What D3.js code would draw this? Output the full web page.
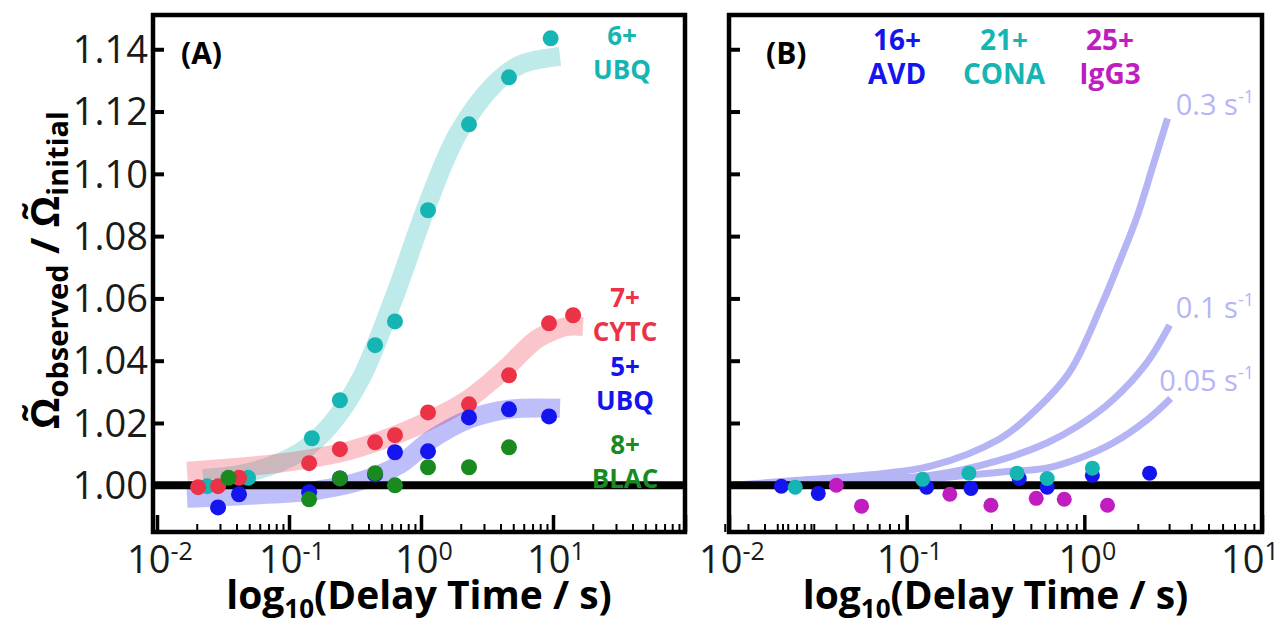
<!DOCTYPE html>
<html>
<head>
<meta charset="utf-8">
<script src="https://cdn.jsdelivr.net/npm/d3@7"></script>
<style>
  body { margin: 0; background: #fff; }
  svg { display: block; font-family: "Open Sans", sans-serif; }
</style>
</head>
<body>
<script>
/***Panel A data : delay time (s) and ratio***/
var cyanT = [0.024, 0.049, 0.149, 0.243, 0.449, 0.635, 1.13, 2.31, 4.64, 9.6];
var cyanY = [0.9997, 1.0024, 1.0151, 1.0273, 1.045, 1.0526, 1.0883, 1.1159, 1.131, 1.1435];
var redT = [0.0205, 0.029, 0.0418, 0.142, 0.243, 0.449, 0.635, 1.13, 2.31, 4.64, 9.33, 14.2];
var redY = [0.9994, 0.9997, 1.0024, 1.0071, 1.0116, 1.0138, 1.0161, 1.0234, 1.026, 1.0353, 1.052, 1.0546];
var blueT = [0.029, 0.0418, 0.142, 0.243, 0.449, 0.635, 1.13, 2.31, 4.64, 9.33];
var blueY = [0.9929, 0.9971, 0.9978, 1.0022, 1.0035, 1.0106, 1.0109, 1.0218, 1.0244, 1.0221];
var greenT = [0.0348, 0.142, 0.243, 0.449, 0.635, 1.13, 2.31, 4.64];
var greenY = [1.0024, 0.9955, 1.0022, 1.0039, 1.0000, 1.0058, 1.0058, 1.0122];

/***Panel A fit bands***/
var fitCyanT = [0.0223, 0.0507, 0.121, 0.205, 0.345, 0.614, 1.15, 1.91, 3.64, 5.63, 11.3];
var fitCyanY = [1.0022, 1.0042, 1.0106, 1.0193, 1.0337, 1.0594, 1.0915, 1.113, 1.129, 1.135, 1.1377];
var fitRedT = [0.0169, 0.0507, 0.121, 0.29, 0.693, 1.39, 2.27, 3.33, 4.56, 7.31, 10.35, 13.0, 16.9];
var fitRedY = [1.0045, 1.0061, 1.008, 1.0112, 1.0167, 1.0225, 1.0276, 1.0331, 1.0382, 1.0465, 1.0498, 1.051, 1.051];
var fitBlueT = [0.0169, 0.0507, 0.163, 0.364, 0.693, 1.17, 2.31, 4.64, 11.3];
var fitBlueY = [0.9958, 0.9968, 0.9984, 1.0016, 1.0067, 1.0144, 1.0212, 1.0244, 1.0247];

/***Panel B data***/
var avdT = [0.0197, 0.0318, 0.1296, 0.230, 0.430, 0.618, 1.11, 2.33];
var avdY = [0.9997, 0.9974, 0.9994, 0.999, 1.0022, 0.9994, 1.0032, 1.0039];
var conaT = [0.0236, 0.123, 0.224, 0.418, 0.618, 1.11];
var conaY = [0.9994, 1.0019, 1.0039, 1.0039, 1.0022, 1.0055];
var igg3T = [0.0402, 0.0557, 0.175, 0.298, 0.536, 0.771, 1.35];
var igg3Y = [1.0, 0.9933, 0.9971, 0.9936, 0.9958, 0.9955, 0.9936];

/***Panel B rate curves***/
var rate03T = [0.0105, 0.0246, 0.0587, 0.138, 0.331, 0.489, 0.822, 1.264, 1.577, 1.967, 2.42, 2.94];
var rate03Y = [1.0, 1.0016, 1.0032, 1.0062, 1.0148, 1.0222, 1.0362, 1.0585, 1.0718, 1.0858, 1.1021, 1.1178];
var rate01T = [0.0105, 0.0246, 0.0587, 0.138, 0.331, 0.610, 0.937, 1.44, 2.24, 3.02];
var rate01Y = [1.0, 1.001, 1.0019, 1.0032, 1.008, 1.0135, 1.0193, 1.0273, 1.0392, 1.0514];
var rate005T = [0.0105, 0.0246, 0.0587, 0.138, 0.331, 0.610, 0.937, 1.44, 2.24, 3.06];
var rate005Y = [1.0, 1.0006, 1.0013, 1.0022, 1.0042, 1.0055, 1.0087, 1.0135, 1.0209, 1.0279];

var yTicks = [1.00, 1.02, 1.04, 1.06, 1.08, 1.10, 1.12, 1.14];
var decadeLabels = [-2, -1, 0, 1];

var W = 1281, H = 622;
var plotTop = 15, plotBottom = 532;
var panelA = {left: 153, right: 685};
var panelB = {left: 729, right: 1262};

var col = {
  cyan: "#15b5b3", red: "#ec3246", blue: "#1414ee",
  green: "#198a1f", magenta: "#c01cc0", rate: "#b5b5f6"
};

var zip = function(ts, ys) {
  return ts.map(function(t, i) { return {t: t, v: ys[i]}; });
};

/***Draw SVG***/
var svg = d3.select("body")
            .append("svg")
            .attr("width", W)
            .attr("height", H);

/***Scales***/
var yScale = d3.scaleLinear()
               .domain([0.985, 1.151])
               .range([plotBottom, plotTop]);
var xA = d3.scaleLog()
           .domain([Math.pow(10, -2 - 4 / 132), 100])
           .range([panelA.left, panelA.right]);
var xB = d3.scaleLog()
           .domain([0.01, 10])
           .range([panelB.left, panelB.right]);

var drawFrame = function(x, p, decades)
{
  var g = svg.append("g");
  /***y ticks, pointing inward***/
  var yAxis = d3.axisRight(yScale)
                .tickValues(yTicks)
                .tickSize(11)
                .tickFormat("");
  g.append("g")
   .attr("transform", "translate(" + p.left + ",0)")
   .call(yAxis)
   .call(function(s) {
     s.select(".domain").remove();
     s.selectAll("line").attr("stroke", "#000").attr("stroke-width", 4);
   });

  /***x ticks: minor and major***/
  var minors = [];
  decades.forEach(function(d) {
    for (var k = 2; k <= 9; k++) minors.push(k * Math.pow(10, d));
  });
  var majors = decades.map(function(d) { return Math.pow(10, d); });
  var xMinor = d3.axisTop(x).tickValues(minors).tickSize(8).tickFormat("");
  var xMajor = d3.axisTop(x).tickValues(majors).tickSize(17).tickFormat("");
  g.append("g")
   .attr("transform", "translate(0," + plotBottom + ")")
   .call(xMinor)
   .call(function(s) {
     s.select(".domain").remove();
     s.selectAll("line").attr("stroke", "#000").attr("stroke-width", 2);
   });
  g.append("g")
   .attr("transform", "translate(0," + plotBottom + ")")
   .call(xMajor)
   .call(function(s) {
     s.select(".domain").remove();
     s.selectAll("line").attr("stroke", "#000").attr("stroke-width", 3.5);
   });

  /***x tick labels 10^n (kept inside the page at the right edge)***/
  var lab = g.selectAll(".xlab")
             .data(decadeLabels)
             .enter().append("text")
             .attr("class", "xlab")
             .attr("x", function(d) { return Math.min(x(Math.pow(10, d)) + 3, W - 31); })
             .attr("y", 573)
             .attr("text-anchor", "middle")
             .attr("font-size", 38)
             .attr("fill", "#1a1a1a");
  lab.append("tspan").text("10");
  lab.append("tspan")
     .attr("dy", -13)
     .attr("font-size", 25)
     .text(function(d) { return d < 0 ? "-" + (-d) : "" + d; });

  return g;
};

var drawBorder = function(p)
{
  svg.append("rect")
     .attr("x", p.left)
     .attr("y", plotTop)
     .attr("width", p.right - p.left)
     .attr("height", plotBottom - plotTop)
     .attr("fill", "none")
     .attr("stroke", "#000")
     .attr("stroke-width", 4.5);
};

var baseLine = function(p)
{
  svg.append("line")
     .attr("x1", p.left)
     .attr("x2", p.right)
     .attr("y1", yScale(1))
     .attr("y2", yScale(1))
     .attr("stroke", "#000")
     .attr("stroke-width", 8);
};

var lineGen = function(x) {
  return d3.line()
           .curve(d3.curveCatmullRom.alpha(0.5))
           .x(function(d) { return x(d.t); })
           .y(function(d) { return yScale(d.v); });
};

var dots = function(x, ts, ys, color, r)
{
  svg.append("g")
     .selectAll("circle")
     .data(zip(ts, ys))
     .enter().append("circle")
       .attr("cx", function(d) { return x(d.t); })
       .attr("cy", function(d) { return yScale(d.v); })
       .attr("r", r)
       .attr("fill", color);
};

var textBlock = function(x, y, lines, color, size, weight)
{
  lines.forEach(function(s, i) {
    svg.append("text")
       .attr("x", x)
       .attr("y", y + i * 34)
       .attr("text-anchor", "middle")
       .attr("font-size", size)
       .attr("font-weight", weight)
       .attr("fill", color)
       .text(s);
  });
};

/******** Panel A ********/
drawFrame(xA, panelA, [-2, -1, 0, 1, 2]);

/***Fit bands***/
[[fitCyanT, fitCyanY, col.cyan], [fitRedT, fitRedY, col.red], [fitBlueT, fitBlueY, col.blue]]
  .forEach(function(b) {
    svg.append("path")
       .datum(zip(b[0], b[1]))
       .attr("d", lineGen(xA))
       .attr("fill", "none")
       .attr("stroke", b[2])
       .attr("stroke-opacity", 0.28)
       .attr("stroke-width", 19);
  });

baseLine(panelA);

dots(xA, cyanT, cyanY, col.cyan, 8);
dots(xA, redT, redY, col.red, 8);
dots(xA, blueT, blueY, col.blue, 8);
dots(xA, greenT, greenY, col.green, 8);

/***y tick labels***/
svg.selectAll(".ylab")
   .data(yTicks)
   .enter().append("text")
   .attr("class", "ylab")
   .attr("x", 148)
   .attr("y", function(d) { return yScale(d); })
   .attr("dy", "0.36em")
   .attr("text-anchor", "end")
   .attr("font-size", 38)
   .attr("fill", "#1a1a1a")
   .text(function(d) { return d.toFixed(2); });

svg.append("text")
   .attr("x", 181)
   .attr("y", 64)
   .attr("font-size", 30)
   .attr("font-weight", "bold")
   .text("(A)");

textBlock(622, 45, ["6+", "UBQ"], col.cyan, 26, "bold");
textBlock(625, 307, ["7+", "CYTC"], col.red, 26, "bold");
textBlock(625, 376, ["5+", "UBQ"], col.blue, 26, "bold");
textBlock(625, 454, ["8+", "BLAC"], col.green, 26, "bold");

/******** Panel B ********/
drawFrame(xB, panelB, [-2, -1, 0, 1]);

[[rate03T, rate03Y], [rate01T, rate01Y], [rate005T, rate005Y]].forEach(function(c) {
  svg.append("path")
     .datum(zip(c[0], c[1]))
     .attr("d", lineGen(xB))
     .attr("fill", "none")
     .attr("stroke", col.rate)
     .attr("stroke-width", 7);
});

baseLine(panelB);

dots(xB, avdT, avdY, col.blue, 7.5);
dots(xB, conaT, conaY, col.cyan, 7.5);
dots(xB, igg3T, igg3Y, col.magenta, 7.5);

svg.append("text")
   .attr("x", 766)
   .attr("y", 64)
   .attr("font-size", 30)
   .attr("font-weight", "bold")
   .text("(B)");

textBlock(897, 50, ["16+", "AVD"], col.blue, 28, "bold");
textBlock(1004, 50, ["21+", "CONA"], col.cyan, 28, "bold");
textBlock(1110, 50, ["25+", "IgG3"], col.magenta, 28, "bold");

/***rate labels***/
var rateLabels = [["0.3 s", 115], ["0.1 s", 318], ["0.05 s", 391]];
rateLabels.forEach(function(r) {
  var t = svg.append("text")
             .attr("x", 1254)
             .attr("y", r[1])
             .attr("text-anchor", "end")
             .attr("font-size", 29)
             .attr("fill", col.rate);
  t.append("tspan").text(r[0]);
  t.append("tspan").attr("dy", -12).attr("font-size", 18).text("-1");
});

drawBorder(panelA);
drawBorder(panelB);

/***Axis titles***/
[panelA, panelB].forEach(function(p) {
  var t = svg.append("text")
             .attr("x", (p.left + p.right) / 2)
             .attr("y", 609)
             .attr("text-anchor", "middle")
             .attr("font-size", 39)
             .attr("font-weight", "bold");
  t.append("tspan").text("log");
  t.append("tspan").attr("dy", 9).attr("font-size", 26).text("10");
  t.append("tspan").attr("dy", -9).text("(Delay Time / s)");
});

var yt = svg.append("text")
            .attr("transform", "translate(59,270) rotate(-90)")
            .attr("text-anchor", "middle")
            .attr("font-size", 40)
            .attr("font-weight", "bold");
yt.append("tspan").text("\u03A9\u0303");
yt.append("tspan").attr("dy", 9).attr("font-size", 29).text("observed");
yt.append("tspan").attr("dy", -9).text(" / \u03A9\u0303");
yt.append("tspan").attr("dy", 9).attr("font-size", 29).text("initial");
</script>
</body>
</html>
